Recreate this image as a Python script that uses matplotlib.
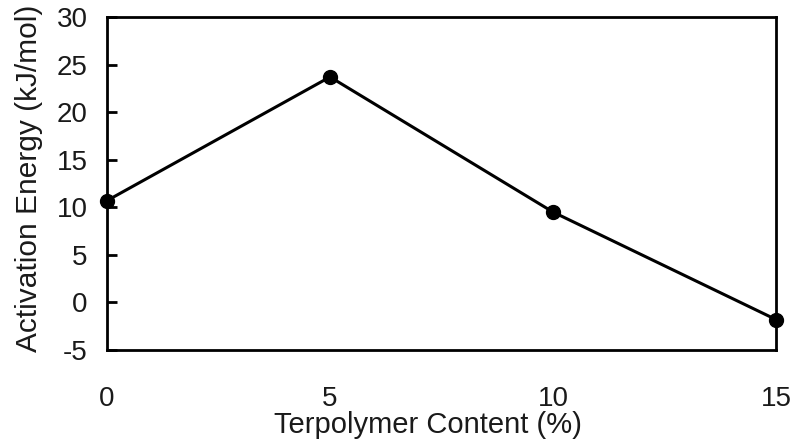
import matplotlib.pyplot as plt

plt.rcParams['font.family'] = ['Liberation Sans', 'DejaVu Sans']
plt.rcParams['axes.unicode_minus'] = False

conteudo = [0, 5, 10, 15]
energia = [10.7, 23.7, 9.5, -1.8]

fig = plt.figure(figsize=(7.97, 4.46), dpi=100)
ax = fig.add_axes([107/797, 1 - 350/446, (776 - 107)/797, (350 - 17)/446])

ax.plot(conteudo, energia, color='black', lw=2.2, marker='o', ms=10,
        clip_on=False, zorder=3)

ax.set_xlim(0, 15)
ax.set_ylim(-5, 30)
ax.set_xticks(conteudo)
ax.set_yticks(range(-5, 31, 5))
ax.tick_params(axis='y', direction='in', length=7, width=2, labelsize=20, pad=14,
               labelcolor='#1a1a1a')
ax.tick_params(axis='x', length=0, labelsize=20, pad=26, labelcolor='#1a1a1a')
for s in ax.spines.values():
    s.set_linewidth(2)

ax.set_xlabel('Terpolymer Content (%)', fontsize=21, color='#1a1a1a')
ax.set_ylabel('Activation Energy (kJ/mol)', fontsize=21.5, color='#1a1a1a')
ax.xaxis.set_label_coords(0.48, -0.183)
ax.yaxis.set_label_coords(-0.096, 0.517)

fig.savefig('out.png', dpi=100)
